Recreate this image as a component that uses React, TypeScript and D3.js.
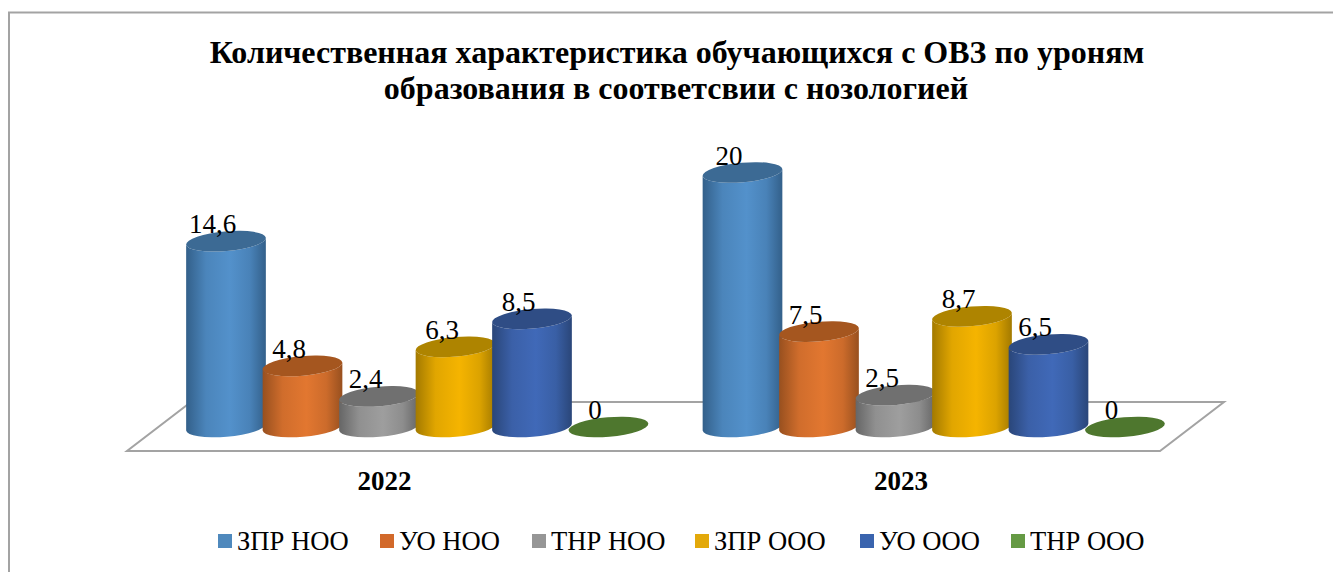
import React from "react";
import * as d3 from "d3";

const years = ["2022", "2023"];
const seriesNames = ["ЗПР НОО", "УО НОО", "ТНР НОО", "ЗПР ООО", "УО ООО", "ТНР ООО"];
const values2022 = [14.6, 4.8, 2.4, 6.3, 8.5, 0];
const values2023 = [20, 7.5, 2.5, 8.7, 6.5, 0];
const valueLabels2022 = ["14,6", "4,8", "2,4", "6,3", "8,5", "0"];
const valueLabels2023 = ["20", "7,5", "2,5", "8,7", "6,5", "0"];
const sideLight = ["#5391cb", "#e27730", "#9e9e9e", "#f5b400", "#4069b8", "#5b8f3c"];
const sideDark = ["#33608a", "#98501f", "#666666", "#a37a00", "#2a4679", "#3d6128"];
const capColors = ["#3c6a94", "#a5561f", "#707070", "#ae8400", "#2f4d85", "#4e772e"];
const legendColors = ["#4f89bd", "#d2692a", "#969696", "#e3a90a", "#3a64ae", "#659a44"];
const legendX = [218, 380, 532, 695, 860, 1011];
const title1 = "Количественная характеристика обучающихся с ОВЗ по уроням";
const title2 = "образования в соответсвии с нозологией";

const FONT = "'Liberation Serif', 'Times New Roman', serif";
const RX = 40;
const RY = 9.8;
const ROT = -5;

const y = d3.scaleLinear().domain([0, 20]).range([427, 172.5]);
const groupX = d3.scaleLinear().domain([0, 1]).range([226, 742.5]);
const seriesOffset = d3.scaleLinear().domain([0, 5]).range([0, 382.5]);

const dx = RX * Math.cos((ROT * Math.PI) / 180);
const dy = -RX * Math.sin((ROT * Math.PI) / 180);

function bodyPath(cx: number, top: number, base: number) {
  const left = cx - dx;
  const right = cx + dx;
  return (
    `M${left},${top + dy} L${left},${base + dy} ` +
    `A${RX},${RY} ${ROT} 0 0 ${right},${base - dy} ` +
    `L${right},${top - dy} ` +
    `A${RX},${RY} ${ROT} 0 1 ${left},${top + dy} Z`
  );
}

export default function App() {
  const groups = [values2022, values2023];
  const labels = [valueLabels2022, valueLabels2023];
  const floor = d3.line()([
    [127, 451],
    [1160, 451],
    [1224, 402],
    [191, 402],
  ]) + "Z";
  return (
    <svg
      width={1333}
      height={572}
      style={{ position: "absolute", left: 0, top: 0, display: "block", fontFamily: FONT }}
    >
      <defs>
        {seriesNames.map((_, i) => (
          <linearGradient key={i} id={`g${i}`} x1="0" x2="1" y1="0" y2="0">
            <stop offset="0" stopColor={sideDark[i]} />
            <stop offset="0.25" stopColor={d3.interpolateRgb(sideDark[i], sideLight[i])(0.75)} />
            <stop offset="0.55" stopColor={sideLight[i]} />
            <stop offset="0.8" stopColor={d3.interpolateRgb(sideDark[i], sideLight[i])(0.7)} />
            <stop offset="1" stopColor={sideDark[i]} />
          </linearGradient>
        ))}
      </defs>
      <rect x={0} y={0} width={1333} height={572} fill="#fff" />
      <path d="M9,572 V12.5 H1333" fill="none" stroke="#a3a3a3" strokeWidth={2} />

      <text x={677} y={63} textAnchor="middle" fontSize={32} fontWeight="bold" fill="#000">
        {title1}
      </text>
      <text x={676} y={99} textAnchor="middle" fontSize={32} fontWeight="bold" fill="#000">
        {title2}
      </text>

      <path d={floor} fill="#fff" stroke="#a3a3a3" strokeWidth={2} />

      {groups.map((vals, g) => (
        <g key={g}>
          {vals.map((v, s) => {
            const cx = groupX(g) + seriesOffset(s);
            const top = y(v);
            const base = y(0);
            return (
              <g key={s}>
                {v > 0 && <path d={bodyPath(cx, top, base)} fill={`url(#g${s})`} />}
                <ellipse
                  cx={cx}
                  cy={top}
                  rx={RX}
                  ry={RY}
                  transform={`rotate(${ROT} ${cx} ${top})`}
                  fill={capColors[s]}
                />
              </g>
            );
          })}
        </g>
      ))}

      {groups.map((vals, g) =>
        vals.map((v, s) => (
          <text
            key={`${g}-${s}`}
            x={groupX(g) + seriesOffset(s) - 13.5}
            y={y(v) - 8}
            textAnchor="middle"
            fontSize={27}
            fill="#000"
          >
            {labels[g][s]}
          </text>
        ))
      )}

      {years.map((yr, g) => (
        <text
          key={yr}
          x={groupX(g) + 158.5}
          y={490}
          textAnchor="middle"
          fontSize={27}
          fontWeight="bold"
          fill="#000"
        >
          {yr}
        </text>
      ))}

      {seriesNames.map((name, i) => (
        <g key={name}>
          <rect x={legendX[i]} y={534} width={14} height={14} fill={legendColors[i]} />
          <text x={legendX[i] + 19} y={550} fontSize={26.6} fill="#000">
            {name}
          </text>
        </g>
      ))}
    </svg>
  );
}
